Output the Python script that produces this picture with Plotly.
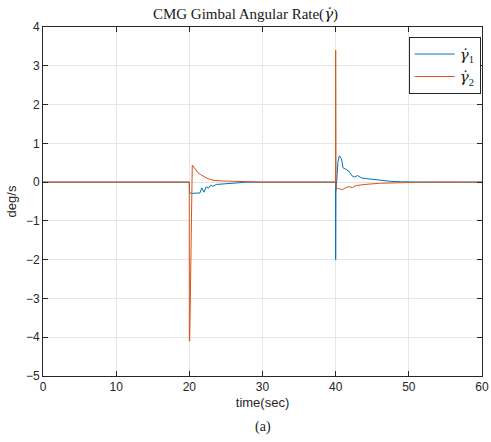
import plotly.graph_objects as go

# gamma1 (blue)
t1 = [0, 19.99, 20.0, 20.03, 20.4, 21.0, 21.45, 21.7, 22.0, 22.3, 22.6, 22.9, 23.2, 23.7, 24.5, 25.5, 26.5, 27.8, 30, 39.99,
      40.0, 40.03, 40.3, 40.5, 40.8, 41.0, 41.4, 41.8, 42.3, 42.6, 43.0, 43.5, 44.2, 45.0, 46.0, 47.5, 49.0, 51.0, 60]
g1 = [0, 0, -0.05, -0.28, -0.29, -0.29, -0.28, -0.15, -0.26, -0.12, -0.16, -0.08, -0.11, -0.06, -0.05, -0.03, -0.015, -0.003, 0, 0,
      -2.0, -0.3, 0.5, 0.68, 0.6, 0.37, 0.33, 0.28, 0.15, 0.13, 0.17, 0.11, 0.09, 0.07, 0.05, 0.02, 0.008, 0.002, 0]

# gamma2 (orange)
t2 = [0, 19.99, 20.0, 20.05, 20.4, 20.8, 21.2, 21.5, 22.0, 22.3, 22.8, 23.5, 24.5, 26.1, 28.0, 30, 39.99,
      40.0, 40.05, 40.4, 40.8, 41.1, 41.4, 41.8, 42.3, 42.8, 44.0, 46.0, 48.5, 52.0, 60]
g2 = [0, 0, -4.1, -4.1, 0.44, 0.34, 0.24, 0.2, 0.13, 0.11, 0.07, 0.04, 0.03, 0.02, 0.005, 0, 0,
      3.4, -0.15, -0.17, -0.19, -0.18, -0.14, -0.12, -0.14, -0.09, -0.06, -0.03, -0.01, 0, 0]

x_ticks = [0, 10, 20, 30, 40, 50, 60]
y_ticks = [-5, -4, -3, -2, -1, 0, 1, 2, 3, 4]

GD = '<span style="font-family:DejaVu Serif"><i>γ̇</i></span>'

fig = go.Figure()
fig.add_trace(go.Scatter(x=t1, y=g1, mode="lines", line=dict(color="#0072BD", width=1),
                         name=GD + "<sub>1</sub>"))
fig.add_trace(go.Scatter(x=t2, y=g2, mode="lines", line=dict(color="#D95319", width=1),
                         name=GD + "<sub>2</sub>"))

axis_common = dict(showline=True, linecolor="#262626", linewidth=1, mirror="allticks",
                   ticks="inside", ticklen=5, tickcolor="#262626", automargin=False,
                   showgrid=True, gridcolor="#E6E6E6", gridwidth=1, zeroline=False,
                   tickfont=dict(family="Liberation Sans, Arial", size=12, color="#262626"))

fig.update_layout(
    width=491, height=442,
    margin=dict(l=43, r=9, t=27, b=66),
    paper_bgcolor="white", plot_bgcolor="white",
    title=dict(text="CMG Gimbal Angular Rate(" + GD + ")", x=0.5, xanchor="center", y=0.97, yanchor="middle",
               font=dict(family="Liberation Serif, DejaVu Serif", size=15, color="#1a1a1a"), automargin=False),
    xaxis=dict(range=[0, 60], tickvals=x_ticks,
               title=dict(text="time(sec)", standoff=4, font=dict(family="Liberation Sans, Arial", size=13, color="#262626")),
               **axis_common),
    yaxis=dict(range=[-5, 4], tickvals=y_ticks,
               title=dict(text="deg/s", standoff=6, font=dict(family="Liberation Sans, Arial", size=13, color="#262626")),
               **axis_common),
    legend=dict(x=0.997, y=0.972, xanchor="right", yanchor="top", bgcolor="white",
                bordercolor="#262626", borderwidth=1,
                font=dict(family="Liberation Serif, DejaVu Serif", size=15, color="#1a1a1a"),
                tracegroupgap=0, itemwidth=40),
    showlegend=True,
)

fig.add_annotation(text="(a)", x=0.5, xref="paper", y=-0.145, yref="paper", yanchor="middle",
                   showarrow=False, font=dict(family="Liberation Serif, DejaVu Serif", size=14, color="#1a1a1a"))

fig.write_html("out.html")
